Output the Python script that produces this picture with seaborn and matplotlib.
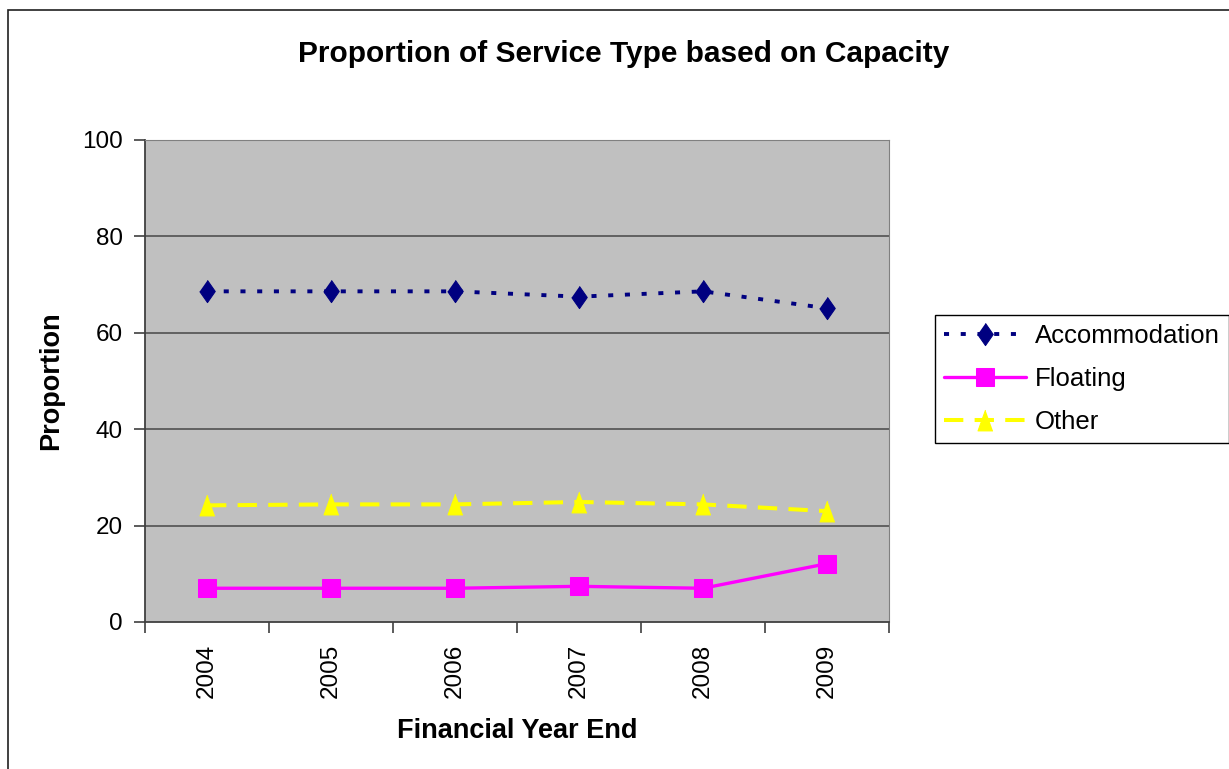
import matplotlib
matplotlib.use("Agg")
import matplotlib.pyplot as plt
from matplotlib.patches import Rectangle
from matplotlib.ticker import FixedLocator
import seaborn as sns
import pandas as pd

# Financial year ends and proportions (%) of capacity by service type
years = ["2004", "2005", "2006", "2007", "2008", "2009"]
accommodation = [68.6, 68.6, 68.6, 67.5, 68.6, 65.1]
floating = [7.0, 7.0, 7.0, 7.4, 7.0, 12.1]
other = [24.2, 24.4, 24.4, 24.9, 24.4, 23.0]

series_names = ["Accommodation", "Floating", "Other"]
series_values = [accommodation, floating, other]

frames = []
for name, vals in zip(series_names, series_values):
    frames.append(pd.DataFrame({"pos": range(len(years)), "year": years,
                                "value": vals, "series": name}))
df = pd.concat(frames, ignore_index=True)

sns.set_style("white", {"axes.facecolor": "#C0C0C0"})
plt.rcParams["font.family"] = ["Liberation Sans", "DejaVu Sans"]
plt.rcParams["text.color"] = "black"
plt.rcParams["axes.labelcolor"] = "black"
plt.rcParams["xtick.color"] = "black"
plt.rcParams["ytick.color"] = "black"

fig = plt.figure(figsize=(12.29, 7.69), dpi=100)
fig.patch.set_facecolor("white")
W, H = 1229, 769
ax = fig.add_axes([145 / W, 1 - 622 / H, (889 - 145) / W, (622 - 140) / H])

# marker shapes: narrow diamond and tall triangle
diamond = [(0, 1), (0.7, 0), (0, -1), (-0.7, 0)]
tri = [(0, 1), (-0.72, -1), (0.72, -1)]
styles = {
    "Accommodation": dict(color="#000080", marker=diamond, markersize=16,
                          linewidth=2.8, dashes=(1.3, 3.0)),
    "Floating": dict(color="#FF00FF", marker="s", markersize=13.5,
                     linewidth=2.4, dashes=None),
    "Other": dict(color="#FFFF00", marker=tri, markersize=15,
                  linewidth=2.9, dashes=(4.8, 2.8)),
}

for name in series_names:
    st = styles[name]
    sub = df[df["series"] == name]
    kw = dict(color=st["color"], marker=st["marker"], markersize=st["markersize"],
              markeredgecolor=st["color"], markerfacecolor=st["color"],
              linewidth=st["linewidth"], label=name)
    sns.lineplot(data=sub, x="pos", y="value", ax=ax, **kw)
    l = ax.get_lines()[-1]
    if st["dashes"] is not None:
        l.set_dashes(st["dashes"])
    l.set_zorder(3)

tick_fs = 17.5
ax.set_xlim(-0.5, len(years) - 0.5)
ax.set_ylim(0, 100)
ax.set_yticks([0, 20, 40, 60, 80, 100])
ax.set_xticks(range(len(years)))
ax.set_xticklabels(years, rotation=90, fontsize=tick_fs)
ax.xaxis.set_minor_locator(FixedLocator([i - 0.5 for i in range(len(years) + 1)]))
ax.tick_params(axis="x", which="major", length=0, pad=16)
ax.tick_params(axis="x", which="minor", length=8, width=1.2, color="#404040",
               direction="out", bottom=True)
ax.tick_params(axis="y", which="major", length=8, width=1.2, color="#404040",
               direction="out", left=True, labelsize=tick_fs, pad=8)

for y in [20, 40, 60, 80]:
    ax.axhline(y, color="#5a5a5a", linewidth=1.3, zorder=1)

ax.spines["left"].set_color("#404040")
ax.spines["bottom"].set_color("#404040")
ax.spines["left"].set_linewidth(1.3)
ax.spines["bottom"].set_linewidth(1.3)
ax.spines["top"].set_color("#808080")
ax.spines["right"].set_color("#808080")
for s in ax.spines.values():
    s.set_visible(True)

ax.set_xlabel("Financial Year End", fontsize=19.5, fontweight="bold")
ax.set_ylabel("Proportion", fontsize=19.5, fontweight="bold")
ax.xaxis.set_label_coords(0.5, -(731 - 622) / (622 - 140))
ax.yaxis.set_label_coords(-(145 - 51) / (889 - 145), 0.5)
ax.xaxis.label.set_va("center")
ax.yaxis.label.set_va("center")

fig.text(624 / W, 1 - 54 / H, "Proportion of Service Type based on Capacity",
         ha="center", va="center", fontsize=21.5, fontweight="bold")

handles, labels = ax.get_legend_handles_labels()
leg = fig.legend(handles, labels, loc="upper left",
                 bbox_to_anchor=(935 / W, 1 - 315 / H), fontsize=18.5,
                 frameon=True, fancybox=False, framealpha=1, edgecolor="black",
                 facecolor="white", handlelength=3.2, borderpad=0.35,
                 labelspacing=0.73, handletextpad=0.35, borderaxespad=0)
leg.get_frame().set_linewidth(1.0)
if ax.get_legend() is not None:
    ax.get_legend().remove()

# Chart area border
fig.patches.append(Rectangle((8 / W, -0.1), 1.5, 1.1 - 10 / H, transform=fig.transFigure,
                             fill=False, edgecolor="#202020", linewidth=1.2, zorder=0))

fig.savefig("out.png", dpi=100, facecolor="white")
